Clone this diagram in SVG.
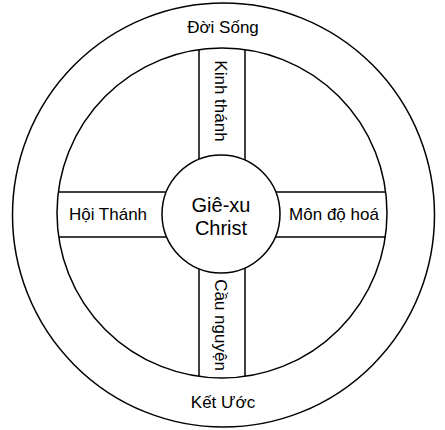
<svg xmlns="http://www.w3.org/2000/svg" width="445" height="430" viewBox="0 0 445 430">
<style>
.s{fill:none;stroke:#000;stroke-width:1.5}
.w{fill:#fff;stroke:#000;stroke-width:1.5}
text{font-family:"Liberation Sans",Arial,sans-serif;font-size:17px;fill:#000;text-anchor:middle}
.big{font-size:20px}
</style>
<rect width="445" height="430" fill="#fff"/>
<g id="outer-ring">
<ellipse class="s" cx="223.5" cy="215" rx="211" ry="212"/>
<text x="223" y="33">Đời Sống</text>
<text x="223" y="408">Kết Ước</text>
</g>
<g id="inner-ring">
<circle class="s" cx="222" cy="213" r="165"/>
</g>
<g id="connectors">
<line class="s" x1="199" y1="49.6" x2="199" y2="159.3"/>
<line class="s" x1="245" y1="49.6" x2="245" y2="160.1"/>
<line class="s" x1="199" y1="268.7" x2="199" y2="376.4"/>
<line class="s" x1="245" y1="267.9" x2="245" y2="376.4"/>
<line class="s" x1="58.3" y1="192" x2="166.3" y2="192"/>
<line class="s" x1="58.8" y1="237" x2="166.7" y2="237"/>
<line class="s" x1="275.7" y1="192" x2="385.7" y2="192"/>
<line class="s" x1="275.3" y1="237" x2="385.2" y2="237"/>
</g>
<g id="kinh-thanh">
<text transform="translate(222,101) rotate(90)" x="0" y="7">Kinh thánh</text>
</g>
<g id="cau-nguyen">
<text transform="translate(222,325) rotate(90)" x="0" y="7">Cầu nguyện</text>
</g>
<g id="hoi-thanh">
<text x="108" y="220">Hội Thánh</text>
</g>
<g id="mon-de-hoa">
<text x="334" y="220">Môn độ hoá</text>
</g>
<g id="gie-xu">
<circle class="w" cx="221" cy="214" r="59"/>
<text class="big" x="221" y="212">Giê-xu</text>
<text class="big" x="221" y="235">Christ</text>
</g>
</svg>
